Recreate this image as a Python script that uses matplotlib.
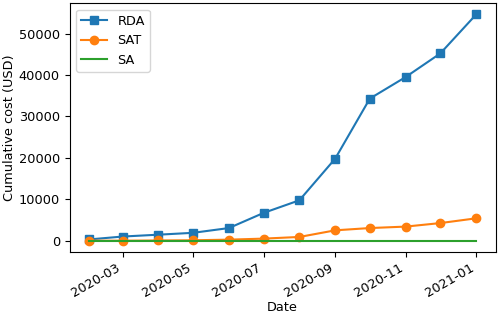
import numpy as np
import pandas as pd
import matplotlib
matplotlib.use('Agg')
import matplotlib.pyplot as plt

plt.rcParams['font.size'] = 9.3

# Data (monthly cumulative cost)
dates = pd.date_range('2020-02-01', '2021-01-01', freq='MS')
rda = [300, 1000, 1450, 1900, 3050, 6700, 9750, 19800, 34300, 39500, 45200, 54600]
sat = [0, 0, 50, 100, 250, 500, 900, 2500, 3050, 3400, 4250, 5400]
sa = [0] * 12

fig, ax = plt.subplots(figsize=(4.98, 3.15), dpi=100)
ax.plot(dates, rda, marker='s', label='RDA')
ax.plot(dates, sat, marker='o', label='SAT')
ax.plot(dates, sa, label='SA')
ax.set_xlabel('Date', labelpad=1)
ax.set_ylabel('Cumulative cost (USD)', labelpad=2)
ax.legend(loc='upper left')
fig.autofmt_xdate()
fig.subplots_adjust(left=0.14, right=0.995, top=0.99, bottom=0.2)
fig.savefig('out.png')
